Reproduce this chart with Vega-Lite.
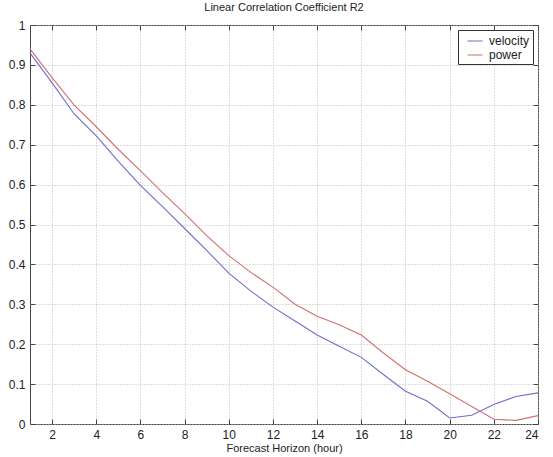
{
  "$schema": "https://vega.github.io/schema/vega-lite/v6.json",
  "autosize": "none",
  "width": 508,
  "height": 399,
  "padding": {"left": 30, "top": 25, "right": 15, "bottom": 33},
  "background": "white",
  "title": {"text": "Linear Correlation Coefficient R2", "fontSize": 11, "fontWeight": "normal", "font": "Liberation Sans", "color": "#222", "offset": 6},
  "data": {"values": [
    {"h":1,"series":"velocity","r2":0.93},{"h":2,"series":"velocity","r2":0.855},{"h":3,"series":"velocity","r2":0.777},{"h":4,"series":"velocity","r2":0.722},{"h":5,"series":"velocity","r2":0.658},{"h":6,"series":"velocity","r2":0.598},{"h":7,"series":"velocity","r2":0.545},{"h":8,"series":"velocity","r2":0.49},{"h":9,"series":"velocity","r2":0.435},{"h":10,"series":"velocity","r2":0.378},{"h":11,"series":"velocity","r2":0.333},{"h":12,"series":"velocity","r2":0.293},{"h":13,"series":"velocity","r2":0.258},{"h":14,"series":"velocity","r2":0.223},{"h":15,"series":"velocity","r2":0.195},{"h":16,"series":"velocity","r2":0.167},{"h":17,"series":"velocity","r2":0.124},{"h":18,"series":"velocity","r2":0.082},{"h":19,"series":"velocity","r2":0.057},{"h":20,"series":"velocity","r2":0.015},{"h":21,"series":"velocity","r2":0.022},{"h":22,"series":"velocity","r2":0.049},{"h":23,"series":"velocity","r2":0.069},{"h":24,"series":"velocity","r2":0.078},
    {"h":1,"series":"power","r2":0.94},{"h":2,"series":"power","r2":0.868},{"h":3,"series":"power","r2":0.799},{"h":4,"series":"power","r2":0.745},{"h":5,"series":"power","r2":0.688},{"h":6,"series":"power","r2":0.635},{"h":7,"series":"power","r2":0.58},{"h":8,"series":"power","r2":0.527},{"h":9,"series":"power","r2":0.472},{"h":10,"series":"power","r2":0.422},{"h":11,"series":"power","r2":0.38},{"h":12,"series":"power","r2":0.343},{"h":13,"series":"power","r2":0.30},{"h":14,"series":"power","r2":0.27},{"h":15,"series":"power","r2":0.249},{"h":16,"series":"power","r2":0.223},{"h":17,"series":"power","r2":0.178},{"h":18,"series":"power","r2":0.136},{"h":19,"series":"power","r2":0.107},{"h":20,"series":"power","r2":0.076},{"h":21,"series":"power","r2":0.044},{"h":22,"series":"power","r2":0.012},{"h":23,"series":"power","r2":0.009},{"h":24,"series":"power","r2":0.021}
  ]},
  "layer": [
    {
      "mark": {"type": "line", "strokeWidth": 1.1},
      "encoding": {
        "x": {"field": "h", "type": "quantitative", "scale": {"domain": [1, 24], "nice": false},
              "axis": {"orient": "bottom", "values": [2,4,6,8,10,12,14,16,18,20,22,24], "title": "Forecast Horizon (hour)", "grid": true}},
        "y": {"field": "r2", "type": "quantitative", "scale": {"domain": [0, 1], "nice": false},
              "axis": {"orient": "left", "values": [0,0.1,0.2,0.3,0.4,0.5,0.6,0.7,0.8,0.9,1], "title": null, "grid": true, "labelExpr": "datum.value == 0 ? '0' : datum.value == 1 ? '1' : format(datum.value, '.1f')"}},
        "color": {"field": "series", "type": "nominal", "sort": ["velocity", "power"],
                  "scale": {"domain": ["velocity", "power"], "range": ["#6e6ecc", "#d46e6e"]},
                  "legend": {"title": null, "orient": "top-right", "offset": 5}}
      }
    },
    {
      "mark": {"type": "line", "opacity": 0},
      "encoding": {
        "x": {"field": "h", "type": "quantitative", "scale": {"domain": [1, 24], "nice": false},
              "axis": {"orient": "top", "values": [2,4,6,8,10,12,14,16,18,20,22,24], "labels": false, "title": null, "grid": false}},
        "y": {"field": "r2", "type": "quantitative", "scale": {"domain": [0, 1], "nice": false},
              "axis": {"orient": "right", "values": [0,0.1,0.2,0.3,0.4,0.5,0.6,0.7,0.8,0.9,1], "labels": false, "title": null, "grid": false}}
      }
    }
  ],
  "resolve": {"axis": {"x": "independent", "y": "independent"}},
  "config": {
    "font": "Liberation Sans",
    "view": {"stroke": "#444", "strokeWidth": 1},
    "axis": {
      "domain": false,
      "tickSize": -5,
      "tickColor": "#444",
      "labelPadding": 10,
      "labelFontSize": 12,
      "labelColor": "#222",
      "labelFont": "Liberation Sans",
      "titleFontSize": 11,
      "titleFontWeight": "normal",
      "titleColor": "#222",
      "titleFont": "Liberation Sans",
      "titlePadding": 2,
      "gridColor": "#bbbbbb",
      "gridDash": [1, 2],
      "gridWidth": 1
    },
    "legend": {
      "strokeColor": "#333",
      "fillColor": "white",
      "padding": 3,
      "symbolType": "stroke",
      "symbolSize": 225,
      "symbolStrokeWidth": 1,
      "symbolOffset": 6,
      "labelFontSize": 12,
      "labelColor": "#222",
      "labelOffset": 6,
      "rowPadding": 0,
      "cornerRadius": 0
    }
  }
}
